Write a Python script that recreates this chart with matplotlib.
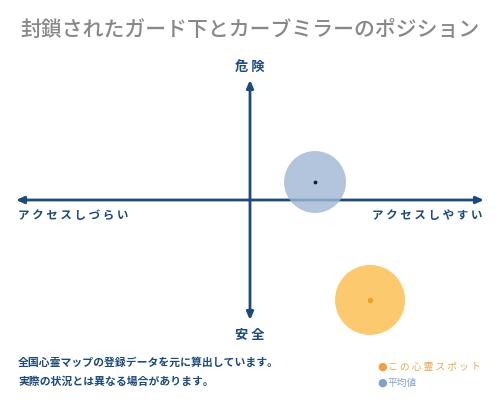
import matplotlib
matplotlib.use("Agg")
import matplotlib.pyplot as plt

plt.rcParams['font.family'] = ['Noto Sans CJK JP', 'DejaVu Sans']

title = "封鎖されたガード下とカーブミラーのポジション"
y_top_label = "危険"
y_bottom_label = "安全"
x_left_label = "アクセスしづらい"
x_right_label = "アクセスしやすい"
notes = ["全国心霊マップの登録データを元に算出しています。", "実際の状況とは異なる場合があります。"]
legend_labels = ["この心霊スポット", "平均値"]

# positions: access (x), danger (y)
spot_x = [5.13]
spot_y = [-8.33]
avg_x = [2.78]
avg_y = [1.5]
spot_size = [2540]
avg_size = [1990]

navy = "#1d4a7a"
orange_fill = "#fdc45e"
orange_dot = "#f0a020"
blue_fill = "#9fb7d4"
gray = "#888888"

def spaced(s):
    return " ".join(s)

fig = plt.figure(figsize=(5, 4), dpi=100)
ax = fig.add_axes([16/500, 1 - 320/400, 468/500, 240/400])
ax.set_xlim(-10, 10)
ax.set_ylim(-10, 10)
ax.axis('off')

ax.annotate('', xy=(10, 0), xytext=(-10, 0),
            arrowprops=dict(arrowstyle='<|-|>,head_length=0.45,head_width=0.2',
                            color=navy, lw=2, shrinkA=0, shrinkB=0))
ax.annotate('', xy=(0, 10), xytext=(0, -10),
            arrowprops=dict(arrowstyle='<|-|>,head_length=0.45,head_width=0.2',
                            color=navy, lw=2, shrinkA=0, shrinkB=0))

ax.scatter(avg_x, avg_y, s=avg_size, color=blue_fill, alpha=0.8, edgecolors='none',
           zorder=3, clip_on=False)
ax.scatter(avg_x, avg_y, s=3, color='#1a1a2a', zorder=4, clip_on=False)
ax.scatter(spot_x, spot_y, s=spot_size, color=orange_fill, alpha=0.9, edgecolors='none',
           zorder=3, clip_on=False)
ax.scatter(spot_x, spot_y, s=8, color=orange_dot, zorder=4, clip_on=False)

fig.text(0.5, 1 - 30/400, title, ha='center', va='center', fontsize=15,
         color=gray, fontweight='medium')
fig.text(0.5, 1 - 67/400, spaced(y_top_label), ha='center', va='center', fontsize=9.5,
         color=navy, fontweight='bold')
fig.text(0.5, 1 - 335/400, spaced(y_bottom_label), ha='center', va='center', fontsize=9.5,
         color=navy, fontweight='bold')
fig.text(18/500, 1 - 215/400, spaced(x_left_label), ha='left', va='center', fontsize=8.3,
         color=navy, fontweight='bold')
fig.text(482/500, 1 - 215/400, spaced(x_right_label), ha='right', va='center', fontsize=8.3,
         color=navy, fontweight='bold')

for i, line in enumerate(notes):
    fig.text(18/500, 1 - (363 + 19*i)/400, line, ha='left', va='center', fontsize=7.8,
             color=navy, fontweight='bold')

legend_colors = ["#f0a040", "#7fa3c8"]
text_colors = ["#eea54a", "#7fa3c8"]
for i, (lab, c, tc) in enumerate(zip(legend_labels, legend_colors, text_colors)):
    yy = 1 - (367 + 16*i)/400
    fig.text(377/500, yy, "●", ha='left', va='center', fontsize=8, color=c,
             family=['DejaVu Sans'])
    fig.text(388/500, yy, spaced(lab) if i == 0 else lab, ha='left', va='center',
             fontsize=7, color=tc)

fig.savefig("out.png", dpi=100, facecolor='white')
